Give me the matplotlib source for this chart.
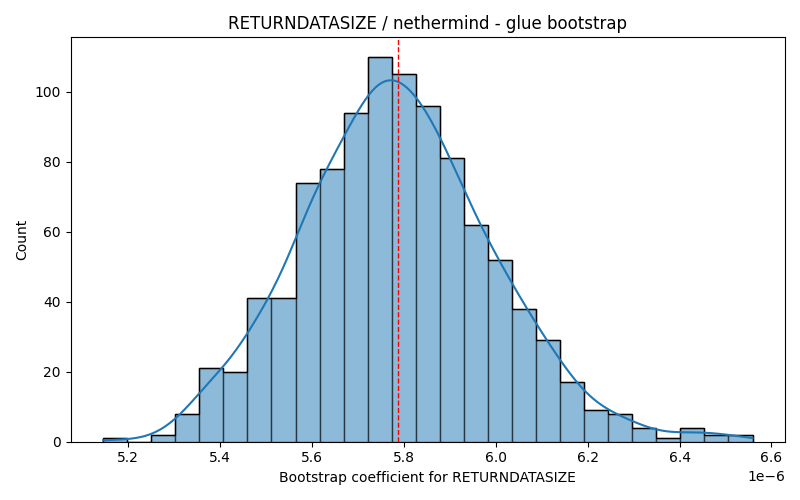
import numpy as np
import matplotlib
matplotlib.use("Agg")
import matplotlib.pyplot as plt
import seaborn as sns

# Data
data_min = 5.1457e-6
data_max = 6.5588e-6
n_bins = 27
counts = [1, 0, 2, 8, 21, 20, 41, 41, 74, 78, 94, 110, 105, 96, 81, 62,
          52, 38, 29, 17, 9, 8, 4, 1, 4, 2, 2]
mean_value = 5.7877e-6
title = "RETURNDATASIZE / nethermind - glue bootstrap"
xlabel = "Bootstrap coefficient for RETURNDATASIZE"
ylabel = "Count"

edges = np.linspace(data_min, data_max, n_bins + 1)
centers = (edges[:-1] + edges[1:]) / 2
w = np.array(counts, dtype=float)

fig, ax = plt.subplots(figsize=(8, 5), dpi=100)
color = sns.color_palette()[0]
ax.hist(centers, bins=edges, weights=w, color=color, alpha=0.5,
        edgecolor="black", linewidth=1)
ax.hist(centers, bins=edges, weights=w, histtype="step", color="black", linewidth=1)

# Weighted gaussian KDE
n = w.sum()
mu = np.sum(w * centers) / n
var = np.sum(w * (centers - mu) ** 2) / n
bw = np.sqrt(var) * n ** (-1 / 5)
xs = np.linspace(data_min, data_max, 400)
dens = np.sum(w[None, :] * np.exp(-0.5 * ((xs[:, None] - centers[None, :]) / bw) ** 2), axis=1)
dens /= (n * bw * np.sqrt(2 * np.pi))
binw = edges[1] - edges[0]
ax.plot(xs, dens * n * binw, color=color, linewidth=1.5)

ax.axvline(mean_value, color="red", linestyle="--", linewidth=1)
ax.set_title(title)
ax.set_xlabel(xlabel)
ax.set_ylabel(ylabel)
fig.tight_layout()
fig.savefig("out.png")
